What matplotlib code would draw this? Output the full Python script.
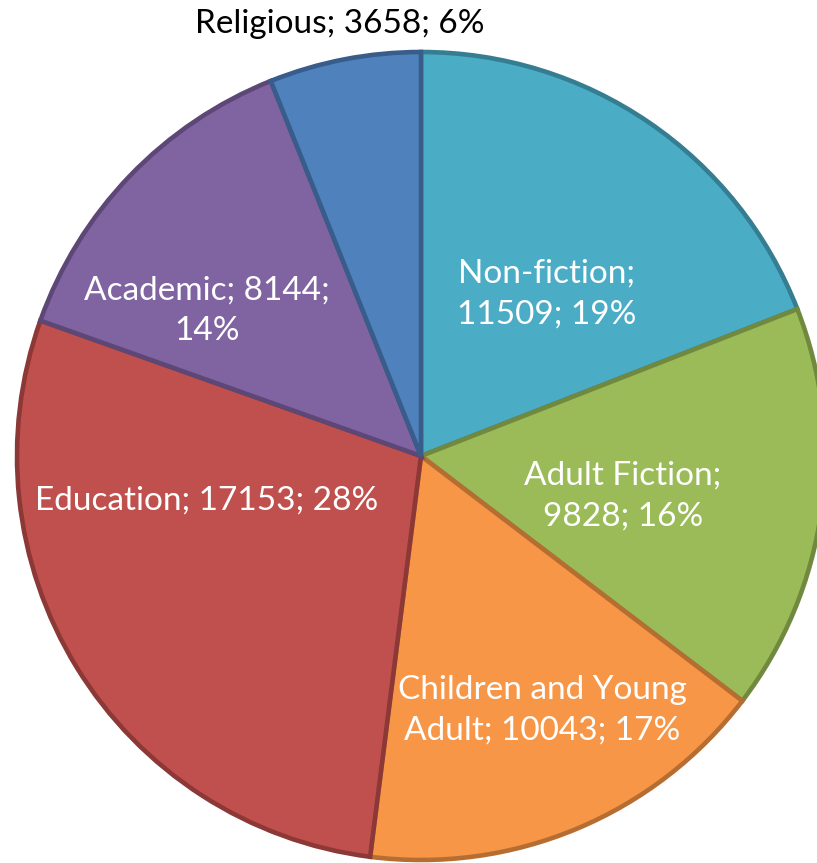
import matplotlib
matplotlib.use('Agg')
import matplotlib.pyplot as plt

categories = ['Non-fiction', 'Adult Fiction', 'Children and Young Adult',
              'Education', 'Academic', 'Religious']
values = [11509, 9828, 10043, 17153, 8144, 3658]
percents = [19, 16, 17, 28, 14, 6]

fills = ['#4BACC6', '#9BBB59', '#F79646', '#C0504D', '#8064A2', '#4F81BD']
edges = ['#357D91', '#71893F', '#B66D31', '#8C3836', '#5C4776', '#385D8A']

# label text as shown in the chart (line breaks as in the original)
label_text = ['Non-fiction;\n11509; 19%', 'Adult Fiction;\n9828; 16%',
              'Children and Young\nAdult; 10043; 17%', 'Education; 17153; 28%',
              'Academic; 8144;\n14%', 'Religious; 3658; 6%']
# label position relative to pie centre, in units of radius
label_pos = [(0.31, 0.40), (0.50, -0.10), (0.30, -0.63),
             (-0.53, -0.11), (-0.53, 0.36), (-0.20, 1.07)]
label_col = ['white', 'white', 'white', 'white', 'white', 'black']

plt.rcParams['font.family'] = ['Lato', 'DejaVu Sans']

fig = plt.figure(figsize=(8.17, 8.63), dpi=100)
ax = fig.add_axes([0, 0, 1, 1])

cx, cy, r = 421, 407, 404
wedges, _ = ax.pie(values, startangle=90, counterclock=False,
                   colors=fills, center=(cx, cy), radius=r, frame=True,
                   wedgeprops=dict(linewidth=3.3, joinstyle='miter'))
for w, ec in zip(wedges, edges):
    w.set_edgecolor(ec)

for t, (fx, fy), c in zip(label_text, label_pos, label_col):
    ax.text(cx + fx * r, cy + fy * r, t, color=c, fontsize=24,
            ha='center', va='center', multialignment='center', linespacing=1.45)

ax.set_xlim(0, 817)
ax.set_ylim(0, 863)
ax.set_aspect('equal')
ax.set_axis_off()

fig.savefig('out.png', dpi=100)
